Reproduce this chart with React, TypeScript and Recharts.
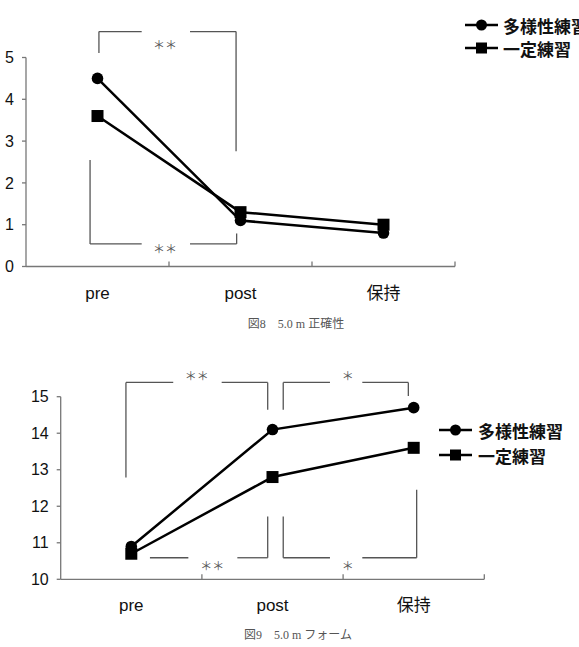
import { LineChart, Line, XAxis, YAxis, ReferenceLine, ReferenceDot, Legend } from "recharts";

const stages = ["pre", "post", "保持"];
const seriesNames = ["多様性練習", "一定練習"];

// 図8 5.0m 正確性
const accuracyVaried = [4.5, 1.1, 0.8];
const accuracyConstant = [3.6, 1.3, 1.0];
const accuracyTicks = [0, 1, 2, 3, 4, 5];

// 図9 5.0m フォーム
const formVaried = [10.9, 14.1, 14.7];
const formConstant = [10.7, 12.8, 13.6];
const formTicks = [10, 11, 12, 13, 14, 15];

// x axis: integer ticks are band edges, half values carry the stage labels
const stageTicks = [0.5, 1, 1.5, 2, 2.5, 3];

// significance brackets as polylines in data units
type Pt = [number, number];
const accuracyBrackets: Pt[][] = [
  [[0.51, 5.11], [0.51, 5.62], [0.809, 5.62]],
  [[1.147, 5.62], [1.469, 5.62], [1.469, 2.76]],
  [[0.448, 2.55], [0.448, 0.54], [0.809, 0.54]],
  [[1.147, 0.54], [1.473, 0.54], [1.473, 0.79]],
];
const accuracyStars = [
  { x: 0.972, y: 5.3, text: "＊＊" },
  { x: 0.972, y: 0.44, text: "＊＊" },
];

const formBrackets: Pt[][] = [
  [[0.462, 12.79], [0.462, 15.39], [0.797, 15.39]],
  [[1.14, 15.39], [1.466, 15.39], [1.466, 14.64]],
  [[1.576, 14.64], [1.576, 15.39], [1.907, 15.39]],
  [[2.136, 15.39], [2.462, 15.39], [2.462, 15.02]],
  [[0.632, 10.59], [0.904, 10.59]],
  [[1.251, 10.59], [1.466, 10.59], [1.466, 11.72]],
  [[1.576, 11.72], [1.576, 10.59], [1.907, 10.59]],
  [[2.136, 10.59], [2.521, 10.59], [2.521, 12.45]],
];
const formStars = [
  { x: 0.963, y: 15.58, text: "＊＊" },
  { x: 2.033, y: 15.58, text: "＊" },
  { x: 1.074, y: 10.39, text: "＊＊" },
  { x: 2.033, y: 10.39, text: "＊" },
];

const buildRows = (a: number[], b: number[]) =>
  stages.map((s, i) => ({ x: i + 0.5, stage: s, varied: a[i], constant: b[i] }));

const SANS = "'Liberation Sans', Arial, 'Noto Sans CJK JP', sans-serif";
const AXIS = "#777";
const BRACKET = "#555";

const StageTick = (props: any) => {
  const { x, y, payload } = props;
  const v = payload.value;
  if (Number.isInteger(v)) {
    return <line x1={x} x2={x} y1={y} y2={y - 5} stroke={AXIS} strokeWidth={1.3} />;
  }
  return (
    <text x={x} y={y + 32} textAnchor="middle" fontSize={17} fontFamily={SANS} fill="#111">
      {stages[Math.floor(v)]}
    </text>
  );
};

const CircleDot = (props: any) => {
  const { cx, cy, index } = props;
  return <circle key={`c${index}`} cx={cx} cy={cy} r={5.8} fill="#000" />;
};

const SquareDot = (props: any) => {
  const { cx, cy, index } = props;
  return <rect key={`s${index}`} x={cx - 6} y={cy - 6} width={12} height={12} fill="#000" />;
};

const LegendBox = ({ rowHeight, gap }: { rowHeight: number; gap: number }) => (
  <div style={{ whiteSpace: "nowrap" }}>
    {seriesNames.map((name, i) => (
      <div key={name} style={{ display: "flex", alignItems: "center", height: rowHeight }}>
        <svg width={33} height={14} style={{ display: "block" }}>
          <line x1={0} x2={33} y1={7} y2={7} stroke="#000" strokeWidth={2.5} />
          {i === 0 ? <circle cx={16.5} cy={7} r={5.5} fill="#000" /> : <rect x={11} y={1.5} width={11} height={11} fill="#000" />}
        </svg>
        <span
          style={{
            marginLeft: gap,
            fontSize: 17,
            fontWeight: 700,
            fontFamily: "'Noto Sans CJK JP', sans-serif",
            color: "#111",
            lineHeight: 1,
          }}
        >
          {name}
        </span>
      </div>
    ))}
  </div>
);

const renderBrackets = (brackets: Pt[][], prefix: string) =>
  brackets.flatMap((poly, p) =>
    poly.slice(1).map((pt, i) => (
      <ReferenceLine
        key={`${prefix}-${p}-${i}`}
        segment={[
          { x: poly[i][0], y: poly[i][1] },
          { x: pt[0], y: pt[1] },
        ]}
        stroke={BRACKET}
        strokeWidth={1.3}
        ifOverflow="visible"
      />
    ))
  );

const renderStars = (stars: { x: number; y: number; text: string }[], prefix: string) =>
  stars.map((s, i) => (
    <ReferenceDot
      key={`${prefix}-star-${i}`}
      x={s.x}
      y={s.y}
      r={1}
      ifOverflow="visible"
      shape={(p: any) => (
        <text
          x={p.cx}
          y={p.cy}
          textAnchor="middle"
          dominantBaseline="central"
          fontSize={12}
          fill="#555"
          fontFamily="'Noto Sans CJK JP', sans-serif"
        >
          {s.text}
        </text>
      )}
    />
  ));

interface PanelProps {
  varied: number[];
  constant: number[];
  yTicks: number[];
  height: number;
  yWidth: number;
  margin: { top: number; right: number; bottom: number; left: number };
  brackets: Pt[][];
  stars: { x: number; y: number; text: string }[];
  legendPos: { left: number; top: number; rowHeight: number; gap: number };
  id: string;
}

const Panel = ({ varied, constant, yTicks, height, yWidth, margin, brackets, stars, legendPos, id }: PanelProps) => (
  <LineChart width={579} height={height} data={buildRows(varied, constant)} margin={margin}>
    <XAxis
      dataKey="x"
      type="number"
      domain={[0, 3]}
      ticks={stageTicks}
      interval={0}
      tickSize={0}
      tickMargin={0}
      tickLine={false}
      height={30}
      axisLine={{ stroke: AXIS, strokeWidth: 1.3 }}
      tick={<StageTick />}
    />
    <YAxis
      type="number"
      domain={[yTicks[0], yTicks[yTicks.length - 1]]}
      ticks={yTicks}
      interval={0}
      width={yWidth}
      tickSize={4}
      tickMargin={8}
      axisLine={{ stroke: AXIS, strokeWidth: 1.3 }}
      tickLine={{ stroke: AXIS, strokeWidth: 1.3 }}
      tick={{ fontSize: 16, fill: "#111", fontFamily: SANS }}
    />
    {renderBrackets(brackets, id)}
    {renderStars(stars, id)}
    <Line
      dataKey="varied"
      name={seriesNames[0]}
      stroke="#000"
      strokeWidth={2.5}
      dot={CircleDot}
      isAnimationActive={false}
    />
    <Line
      dataKey="constant"
      name={seriesNames[1]}
      stroke="#000"
      strokeWidth={2.5}
      dot={SquareDot}
      isAnimationActive={false}
    />
    <Legend
      layout="horizontal"
      verticalAlign="middle"
      align="center"
      wrapperStyle={{ left: legendPos.left, top: legendPos.top, width: 200 }}
      content={() => <LegendBox rowHeight={legendPos.rowHeight} gap={legendPos.gap} />}
    />
  </LineChart>
);

const captionStyle = (centerX: number, centerY: number): React.CSSProperties => ({
  position: "absolute",
  left: centerX - 120,
  width: 240,
  top: centerY - 8,
  height: 16,
  lineHeight: "16px",
  textAlign: "center",
  fontSize: 12,
  color: "#555",
  fontFamily: "'Liberation Serif', 'DejaVu Serif', 'Noto Sans CJK JP', serif",
  whiteSpace: "pre",
});

export default function App() {
  return (
    <div
      style={{
        position: "absolute",
        left: 0,
        top: 0,
        width: 579,
        height: 647,
        overflow: "hidden",
        background: "#fff",
      }}
    >
      <div style={{ position: "absolute", left: 0, top: 0 }}>
        <Panel
          id="acc"
          varied={accuracyVaried}
          constant={accuracyConstant}
          yTicks={accuracyTicks}
          height={330}
          yWidth={26}
          margin={{ top: 57.5, right: 124, bottom: 33.5, left: 0 }}
          brackets={accuracyBrackets}
          stars={accuracyStars}
          legendPos={{ left: 465, top: 13.5, rowHeight: 23.3, gap: 5 }}
        />
      </div>
      <div style={captionStyle(296, 324)}>図8　5.0 m 正確性</div>
      <div style={{ position: "absolute", left: 0, top: 330 }}>
        <Panel
          id="form"
          varied={formVaried}
          constant={formConstant}
          yTicks={formTicks}
          height={317}
          yWidth={60.7}
          margin={{ top: 66.7, right: 94.7, bottom: 37.7, left: 0 }}
          brackets={formBrackets}
          stars={formStars}
          legendPos={{ left: 439.3, top: 87.5, rowHeight: 25, gap: 5.6 }}
        />
      </div>
      <div style={captionStyle(298, 635)}>図9　5.0 m フォーム</div>
    </div>
  );
}
